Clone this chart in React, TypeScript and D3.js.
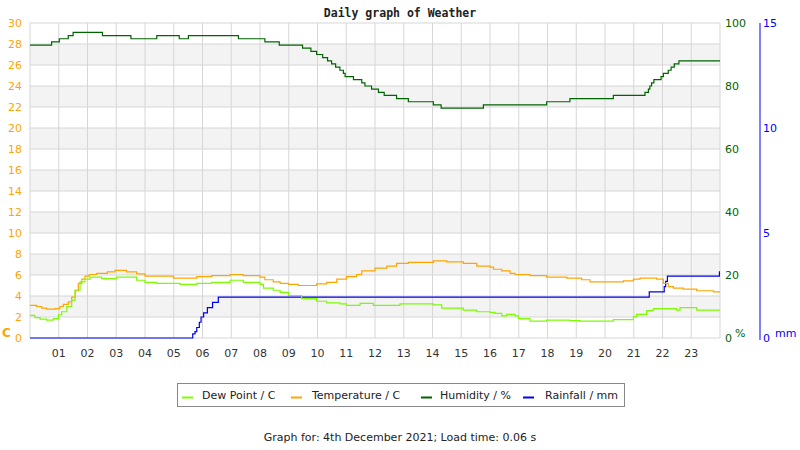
import React from "react";
import * as d3 from "d3";

// ---- data (hour of day, value) ----
const hourLabels = ["01","02","03","04","05","06","07","08","09","10","11","12","13","14","15","16","17","18","19","20","21","22","23"];
const tempTicks = [0,2,4,6,8,10,12,14,16,18,20,22,24,26,28,30];
const humTicks = [0,20,40,60,80,100];
const rainTicks = [0,5,10,15];

const temperature: [number, number][] = [
  [0,3.1],[0.23,3.0],[0.41,2.85],[0.58,2.75],[0.87,2.8],[1.04,3.0],[1.16,3.2],[1.33,3.45],[1.45,3.9],[1.57,4.55],
  [1.68,5.2],[1.8,5.6],[1.91,5.9],[2.06,6.05],[2.32,6.15],[2.69,6.3],[2.96,6.45],[3.36,6.3],[3.71,6.1],[4.0,5.9],
  [4.99,5.7],[5.8,5.85],[6.32,5.95],[6.96,6.05],[7.42,5.95],[8.0,5.8],[8.17,5.55],[8.46,5.35],[8.7,5.2],[8.99,5.1],
  [9.33,5.0],[9.97,5.15],[10.32,5.3],[10.67,5.6],[11.01,5.85],[11.36,6.05],[11.54,6.4],[12.0,6.65],[12.41,6.85],
  [12.75,7.1],[13.16,7.2],[14.03,7.35],[14.49,7.25],[15.07,7.1],[15.54,6.85],[16.0,6.75],[16.12,6.55],[16.41,6.4],
  [16.7,6.15],[16.87,6.05],[17.39,5.95],[17.97,5.8],[18.67,5.7],[19.19,5.55],[19.48,5.35],[20.64,5.45],[20.99,5.6],
  [21.22,5.7],[21.8,5.6],[22.03,5.2],[22.2,4.9],[22.38,4.75],[22.72,4.65],[23.19,4.5],[23.77,4.4],[24,4.4]
];

const dewPoint: [number, number][] = [
  [0,2.15],[0.17,1.95],[0.35,1.8],[0.58,1.7],[0.81,1.85],[0.99,2.2],[1.1,2.5],[1.28,3.0],[1.45,3.6],[1.57,4.55],
  [1.74,5.35],[1.91,5.6],[2.09,5.8],[2.49,5.65],[3.01,5.8],[3.71,5.5],[4.0,5.3],[4.41,5.2],[5.22,5.1],[5.8,5.2],
  [6.32,5.3],[6.96,5.5],[7.42,5.3],[8.0,5.1],[8.12,4.75],[8.46,4.55],[8.7,4.35],[8.99,4.05],[9.45,3.75],[9.97,3.5],
  [10.32,3.35],[10.78,3.25],[11.01,3.1],[11.48,3.3],[11.94,3.1],[12.87,3.25],[14.03,3.15],[14.32,2.85],[15.07,2.65],
  [15.54,2.5],[16.0,2.45],[16.17,2.35],[16.41,2.1],[16.58,2.25],[16.87,2.1],[16.99,1.85],[17.39,1.6],[17.97,1.7],
  [18.78,1.65],[19.13,1.6],[20.29,1.75],[20.99,2.05],[21.1,2.25],[21.45,2.6],[21.68,2.8],[22.49,2.65],[22.61,2.9],
  [23.19,2.65],[24,2.65]
];

const humidity: [number, number][] = [
  [0,93],[0.75,94],[1.02,95],[1.33,96],[1.5,97],[2.52,96],[3.51,95],[4.41,96],[5.19,95],[5.51,96],[7.25,95],
  [8.17,94],[8.67,93],[9.48,92],[9.77,91],[9.97,90],[10.18,89],[10.35,88],[10.49,87],[10.63,86],[10.78,85],
  [10.9,84],[10.96,83],[11.25,82],[11.54,81],[11.65,80],[11.88,79],[12.12,78],[12.32,77],[12.75,76],[13.16,75],
  [14.03,74],[14.3,73],[15.77,74],[17.97,75],[18.78,76],[20.29,77],[21.39,78],[21.51,79],[21.56,80],[21.62,81],
  [21.7,82],[21.95,83],[22.03,84],[22.2,85],[22.3,86],[22.41,87],[22.57,88],[24,88]
];

const rainfall: [number, number][] = [
  [0,0],[5.62,0],[5.66,0.2],[5.74,0.3],[5.8,0.5],[5.89,0.75],[5.95,1.0],[6.04,1.2],[6.17,1.45],[6.35,1.7],
  [6.55,1.95],[21.54,2.2],[22.06,2.45],[22.11,2.7],[22.17,2.95],[23.98,3.15],[24,3.15]
];

const legendItems = [
  { label: "Dew Point / C", color: "#7cfc00" },
  { label: "Temperature / C", color: "#ffa500" },
  { label: "Humidity / %", color: "#006400" },
  { label: "Rainfall / mm", color: "#0000ff" },
];

export default function App() {
  const W = 800, H = 450;
  const left = 30, right = 720, top = 23, bottom = 338;
  const x = d3.scaleLinear().domain([0, 24]).range([left, right]);
  const yT = d3.scaleLinear().domain([0, 30]).range([bottom, top]);
  const yH = d3.scaleLinear().domain([0, 100]).range([bottom, top]);
  const yR = d3.scaleLinear().domain([0, 15]).range([bottom, top]);

  const mk = (ys: d3.ScaleLinear<number, number>) =>
    d3.line<[number, number]>().x(d => x(d[0])).y(d => ys(d[1])).curve(d3.curveStepAfter);

  const font = "DejaVu Sans, Verdana, sans-serif";
  const bands = [2, 6, 10, 14, 18, 22, 26];
  const hours = d3.range(0, 25);
  const legX = [182, 291, 421, 523];
  const legTX = [202, 312, 440, 545];

  return (
    <svg width={W} height={H} style={{ position: "absolute", left: 0, top: 0, background: "#fff" }}>
      <rect x={0} y={0} width={W} height={H} fill="#fff" />
      {bands.map(b => (
        <rect key={b} x={left} y={yT(b + 2)} width={right - left} height={yT(b) - yT(b + 2)} fill="#f3f3f3" />
      ))}
      {tempTicks.map(t => (
        <line key={"h" + t} x1={left} x2={right} y1={yT(t)} y2={yT(t)} stroke="#d6d6d6" strokeWidth={1} />
      ))}
      {hours.map(h => (
        <line key={"v" + h} x1={x(h)} x2={x(h)} y1={top} y2={bottom} stroke="#d6d6d6" strokeWidth={1} />
      ))}
      <text x={400} y={17} textAnchor="middle" fontFamily="DejaVu Sans Mono, monospace" fontWeight="bold" fontSize={11.5} fill="#222">Daily graph of Weather</text>

      {tempTicks.map(t => (
        <text key={"lt" + t} x={22} y={yT(t) + 4} textAnchor="end" fontFamily={font} fontSize={11} fill="#ffa500">{t}</text>
      ))}
      <text x={2} y={337} fontFamily={font} fontSize={12} fontWeight="bold" fill="#ffa500">C</text>

      {humTicks.map(t => (
        <text key={"hm" + t} x={725} y={yH(t) + 4} fontFamily={font} fontSize={11} fill="#006400">{t}</text>
      ))}
      <text x={735} y={337} fontFamily={font} fontSize={11} fill="#006400">%</text>

      <line x1={760} x2={760} y1={top} y2={bottom + 2} stroke="#0000ff" strokeWidth={1} />
      {rainTicks.map(t => (
        <text key={"rn" + t} x={763} y={yR(t) + 4} fontFamily={font} fontSize={11} fill="#0000ff">{t}</text>
      ))}
      <text x={775} y={337} fontFamily={font} fontSize={11} fill="#0000ff">mm</text>

      {hourLabels.map((l, i) => (
        <text key={"xl" + l} x={x(i + 1)} y={357} textAnchor="middle" fontFamily={font} fontSize={11} fill="#333">{l}</text>
      ))}

      <path d={mk(yH)(humidity) || ""} fill="none" stroke="#006400" strokeWidth={1.2} />
      <path d={mk(yR)(rainfall) || ""} fill="none" stroke="#0000ee" strokeWidth={1.2} />
      <path d={mk(yT)(temperature) || ""} fill="none" stroke="#ffa500" strokeWidth={1.2} />
      <path d={mk(yT)(dewPoint) || ""} fill="none" stroke="#7cfc00" strokeWidth={1.2} />

      <rect x={177.5} y={383.5} width={447} height={23} fill="#fff" stroke="#888" strokeWidth={1} />
      {legendItems.map((it, i) => (
        <g key={it.label}>
          <line x1={legX[i]} x2={legX[i] + 11} y1={397.5} y2={397.5} stroke={it.color} strokeWidth={2} />
          <text x={legTX[i]} y={399} fontFamily={font} fontSize={11} fill="#222">{it.label}</text>
        </g>
      ))}

      <text x={400} y={441} textAnchor="middle" fontFamily={font} fontSize={11} fill="#222">Graph for: 4th December 2021; Load time: 0.06 s</text>
    </svg>
  );
}
